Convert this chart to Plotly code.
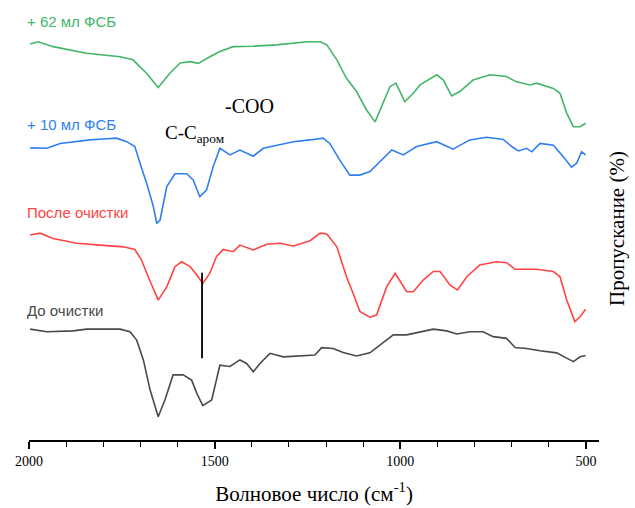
import plotly.graph_objects as go

# ---- data (wavenumber cm^-1, transmittance, arbitrary offset units) ----
wn_green = [1997, 1975, 1935, 1890, 1845, 1755, 1720, 1683, 1652, 1620, 1593, 1566, 1544, 1513, 1486, 1450, 1397, 1333, 1252, 1216, 1198, 1171, 1145, 1118, 1091, 1068, 1046, 1028, 1012, 988, 965, 947, 902, 884, 862, 840, 804, 759, 714, 687, 651, 633, 588, 570, 552, 534, 516, 501]
t_green = [90.0, 90.5, 89.4, 88.6, 87.9, 87.1, 86.4, 83.3, 80.1, 83.4, 85.7, 86.0, 85.6, 87.1, 88.3, 89.4, 89.5, 89.8, 90.5, 90.5, 89.8, 86.4, 82.2, 79.2, 75.0, 72.3, 76.5, 80.3, 81.1, 76.9, 78.8, 80.7, 83.0, 81.8, 78.2, 79.2, 81.8, 83.0, 82.6, 81.4, 80.7, 81.1, 79.9, 78.8, 74.3, 71.2, 71.2, 72.0]

wn_blue = [1997, 1952, 1916, 1881, 1836, 1800, 1764, 1737, 1715, 1701, 1683, 1665, 1656, 1647, 1629, 1607, 1575, 1558, 1540, 1522, 1504, 1486, 1459, 1432, 1396, 1369, 1333, 1288, 1243, 1208, 1190, 1163, 1136, 1109, 1082, 1055, 1023, 992, 956, 902, 858, 813, 768, 723, 700, 682, 660, 646, 624, 588, 561, 539, 525, 512, 501]
t_blue = [66.4, 66.3, 67.4, 67.8, 68.2, 68.4, 68.6, 67.8, 66.7, 62.9, 58.3, 53.0, 49.2, 50.0, 57.6, 60.5, 60.5, 59.1, 55.3, 56.8, 62.1, 66.3, 64.8, 65.9, 64.5, 66.3, 67.0, 67.8, 68.2, 68.6, 67.4, 63.6, 60.2, 60.2, 61.0, 63.3, 65.9, 64.8, 66.7, 67.8, 66.1, 68.2, 68.8, 68.3, 66.7, 65.7, 66.3, 65.5, 67.4, 67.0, 64.4, 62.0, 62.9, 65.5, 64.8]

wn_red = [1997, 1970, 1935, 1872, 1809, 1746, 1715, 1697, 1679, 1652, 1629, 1607, 1589, 1566, 1548, 1532, 1513, 1495, 1477, 1450, 1432, 1396, 1360, 1324, 1288, 1243, 1216, 1198, 1171, 1145, 1127, 1109, 1082, 1064, 1037, 1014, 983, 965, 938, 911, 893, 866, 846, 821, 786, 741, 714, 691, 633, 588, 570, 552, 530, 516, 501]
t_red = [46.6, 47.0, 45.8, 44.7, 44.3, 43.9, 43.3, 40.9, 37.1, 31.8, 34.8, 39.4, 40.5, 39.4, 37.5, 35.6, 37.9, 41.7, 43.3, 42.8, 44.3, 43.2, 44.5, 44.7, 44.1, 45.3, 47.0, 46.8, 43.9, 37.1, 33.3, 29.2, 27.9, 28.4, 34.8, 37.9, 33.7, 33.7, 36.4, 38.3, 38.3, 35.2, 34.1, 37.1, 39.8, 40.5, 40.3, 38.8, 38.8, 38.3, 37.1, 31.8, 26.9, 28.0, 29.7]

wn_black = [1997, 1952, 1881, 1845, 1755, 1728, 1710, 1692, 1674, 1652, 1634, 1612, 1585, 1562, 1548, 1532, 1508, 1486, 1459, 1432, 1414, 1396, 1378, 1351, 1315, 1270, 1230, 1212, 1181, 1154, 1118, 1082, 1055, 1019, 983, 947, 911, 875, 848, 813, 777, 750, 714, 691, 660, 624, 579, 552, 534, 516, 501]
t_black = [25.2, 24.6, 24.8, 25.2, 25.2, 24.6, 22.7, 18.2, 11.4, 5.3, 9.1, 14.8, 14.8, 13.6, 10.6, 7.8, 9.1, 17.0, 16.7, 18.2, 17.4, 15.5, 17.4, 19.7, 18.9, 19.1, 19.3, 21.0, 20.8, 19.9, 19.1, 19.8, 21.6, 23.9, 23.9, 24.6, 25.2, 24.8, 24.1, 24.6, 24.6, 23.5, 23.1, 21.0, 20.8, 20.3, 19.8, 18.6, 17.8, 18.9, 19.2]

marker_wn = [1534, 1534]
marker_t = [38.0, 18.6]

series_names = ["+ 62 мл ФСБ", "+ 10 мл ФСБ", "После очистки", "До очистки"]
label_t = [95.2, 71.6, 51.6, 29.5]
x_ticks = [2000, 1500, 1000, 500]

colors = ["#43b66a", "#2f7ff0", "#ff4444", "#4a4a4a"]
serif = "Liberation Serif, Times New Roman"

fig = go.Figure()
for xs, ys, c in [(wn_green, t_green, colors[0]), (wn_blue, t_blue, colors[1]),
                  (wn_red, t_red, colors[2]), (wn_black, t_black, colors[3])]:
    fig.add_trace(go.Scatter(x=xs, y=ys, mode="lines",
                             line=dict(color=c, width=1.6), showlegend=False,
                             hoverinfo="skip"))

fig.add_trace(go.Scatter(x=marker_wn, y=marker_t, mode="lines",
                         line=dict(color="black", width=1.8), showlegend=False))

for name, yv, c in zip(series_names, label_t, colors):
    fig.add_annotation(xref="paper", x=-0.007, y=yv, text=name, showarrow=False,
                       xanchor="left", yanchor="middle",
                       font=dict(family="Liberation Sans, Arial", size=15, color=c))

fig.add_annotation(x=1405, y=75.8, text="-COO", showarrow=False,
                   xanchor="center", yanchor="middle",
                   font=dict(family=serif, size=20, color="black"))
fig.add_annotation(x=1638, y=69.5, text="C-C<sub>аром</sub>", showarrow=False,
                   xanchor="left", yanchor="middle",
                   font=dict(family=serif, size=19, color="black"))

fig.add_annotation(xref="paper", yref="paper", x=1.032, y=0.48,
                   text="Пропускание (%)", textangle=-90, showarrow=False,
                   xanchor="center", yanchor="middle",
                   font=dict(family=serif, size=21, color="black"))

fig.update_layout(
    width=635, height=508,
    margin=dict(l=29, r=36, t=0, b=68),
    paper_bgcolor="white", plot_bgcolor="white",
    xaxis=dict(range=[2000, 465], tickvals=x_ticks, ticktext=[str(v) for v in x_ticks],
               showline=True, linecolor="black", linewidth=1.5,
               ticks="outside", ticklen=7, tickwidth=1.5, tickcolor="black",
               minor=dict(dtick=100, tick0=0, ticks="outside", ticklen=5, tickwidth=1.2, tickcolor="black"),
               showgrid=False, zeroline=False,
               tickfont=dict(family=serif, size=14, color="black"),
               title=dict(text="Волновое число (см<sup>-1</sup>)", standoff=19,
                          font=dict(family=serif, size=21, color="black"))),
    yaxis=dict(range=[0, 100], showline=False, showticklabels=False, ticks="",
               showgrid=False, zeroline=False),
)

fig.write_html("out.html")
